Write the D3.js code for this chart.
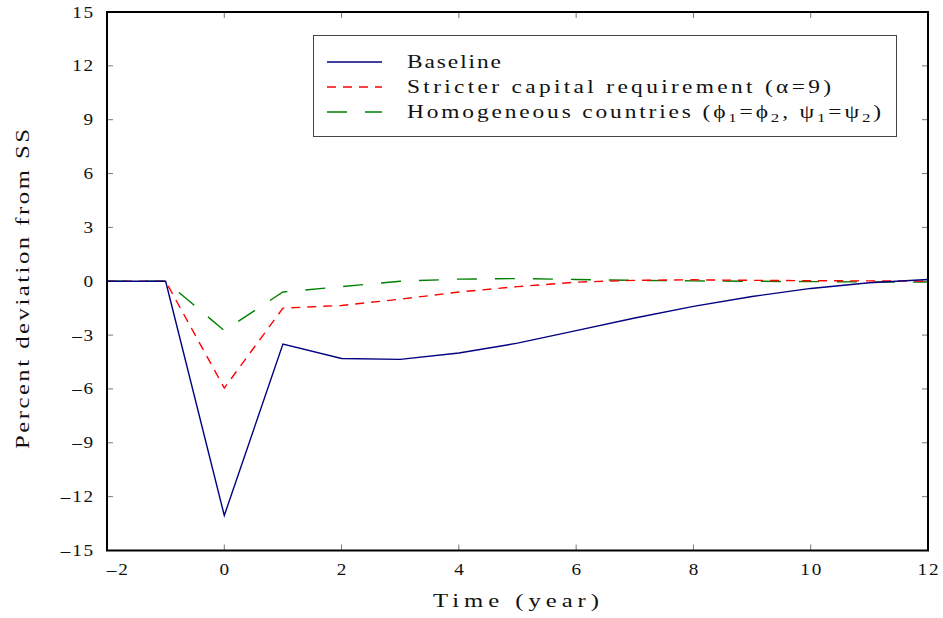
<!DOCTYPE html>
<html><head><meta charset="utf-8">
<script src="https://cdn.jsdelivr.net/npm/d3@7"></script>
<style>body{margin:0;background:#fff;} text{font-family:"Liberation Serif",serif;fill:#111;}</style>
</head><body>
<svg id="c" width="943" height="618"></svg>
<script>
const years = [-2,-1,0,1,2,3,4,5,6,7,8,9,10,11,12];
const baseline = [0,0,-13.05,-3.5,-4.3,-4.35,-4.0,-3.45,-2.75,-2.05,-1.4,-0.85,-0.4,-0.08,0.1];
const stricter = [0,0,-5.95,-1.5,-1.35,-1.0,-0.6,-0.3,-0.05,0.05,0.08,0.05,0.03,0.02,0.0];
const homogeneous = [0,0,-2.75,-0.6,-0.3,0.0,0.12,0.15,0.1,0.05,0.02,0.0,-0.02,-0.04,-0.05];
const xTicks = [-2,0,2,4,6,8,10,12];
const yTicks = [-15,-12,-9,-6,-3,0,3,6,9,12,15];
const legendLabels = ["Baseline","Stricter capital requirement","Homogeneous countries"];

const svg = d3.select("#c");
const L=107,R=928,T=12,B=550.5;
const x = d3.scaleLinear().domain([-2,12]).range([L,R]);
const y = d3.scaleLinear().domain([-15,15]).range([B,T]);
const g = svg.append("g");
const tk = 6;
const fmt = v => v<0 ? "\u2013" + (-v) : String(v);

function stretched(parent, tx, ty, rot, sx, fs, width){
  const gg = parent.append("g").attr("transform",`translate(${tx},${ty}) rotate(${rot}) scale(${sx},1)`);
  return gg.append("text").attr("x",0).attr("y",0).attr("font-size",fs)
    .attr("textLength",width/sx).attr("lengthAdjust","spacing");
}

xTicks.forEach(v=>{
  g.append("line").attr("x1",x(v)).attr("x2",x(v)).attr("y1",B).attr("y2",B-tk).attr("stroke","#777").attr("stroke-width",1);
  g.append("line").attr("x1",x(v)).attr("x2",x(v)).attr("y1",T).attr("y2",T+tk).attr("stroke","#777").attr("stroke-width",1);
  const gg = g.append("g").attr("transform",`translate(${x(v)+1},${B+24}) scale(1.2,1)`);
  const t = gg.append("text").attr("font-size",16).attr("letter-spacing",1.5).text(fmt(v));
  if(v===xTicks[0]) t.attr("text-anchor","start").attr("x",-1);
  else t.attr("text-anchor","middle");
});
yTicks.forEach(v=>{
  g.append("line").attr("x1",L).attr("x2",L+tk).attr("y1",y(v)).attr("y2",y(v)).attr("stroke","#777").attr("stroke-width",1);
  g.append("line").attr("x1",R).attr("x2",R-tk).attr("y1",y(v)).attr("y2",y(v)).attr("stroke","#777").attr("stroke-width",1);
  g.append("g").attr("transform",`translate(${L-12},${y(v)+5.5}) scale(1.2,1)`)
   .append("text").attr("text-anchor","end").attr("font-size",16).attr("letter-spacing",1.5).text(fmt(v));
});
const line = d3.line().x((d,i)=>x(years[i])).y(d=>y(d));
svg.append("clipPath").attr("id","cp").append("rect").attr("x",L).attr("y",T).attr("width",R-L).attr("height",B-T);
const lines = svg.append("g").attr("clip-path","url(#cp)");
lines.append("path").datum(homogeneous).attr("d",line).attr("fill","none").attr("stroke","#008000").attr("stroke-width",1.4).attr("stroke-dasharray","20,18");
lines.append("path").datum(stricter).attr("d",line).attr("fill","none").attr("stroke","#ff0000").attr("stroke-width",1.4).attr("stroke-dasharray","9,7");
lines.append("path").datum(baseline).attr("d",line).attr("fill","none").attr("stroke","#000080").attr("stroke-width",1.4);
svg.append("rect").attr("x",L).attr("y",T).attr("width",R-L).attr("height",B-T).attr("fill","none").attr("stroke","#000").attr("stroke-width",2);
// axis labels
stretched(svg, 433, 607, 0, 1.3, 19, 166).text("Time (year)");
stretched(svg, 29, 449, -90, 1.3, 19, 320).text("Percent deviation from SS");
// legend
const lg = svg.append("g");
lg.append("rect").attr("x",313.5).attr("y",35.5).attr("width",583).attr("height",101).attr("fill","#fff").attr("stroke","#444").attr("stroke-width",1);
const items = [
  {c:"#000080",d:null,w:94,t:[[legendLabels[0]]]},
  {c:"#ff0000",d:"9,7",w:424,t:[[legendLabels[1]+" ("],["\u03b1"],["=9)"]]},
  {c:"#008000",d:"20,18",w:474,t:[[legendLabels[2]+" (\u03d5"],["1","sub"],["=\u03d5"],["2","sub"],[", \u03c8"],["1","sub"],["=\u03c8"],["2","sub"],[")"]]}
];
items.forEach((it,i)=>{
  const yy = 62 + i*25;
  lg.append("line").attr("x1",327).attr("x2",382).attr("y1",yy).attr("y2",yy).attr("stroke",it.c).attr("stroke-width",1.4).attr("stroke-dasharray",it.d);
  const t = stretched(lg, 407, yy+6, 0, 1.3, 18, it.w);
  let prevSub=false;
  it.t.forEach(p=>{
    const s = t.append("tspan").text(p[0]);
    if(p[1]==="sub"){ s.attr("font-size",13).attr("dy",4); prevSub=true; }
    else if(prevSub){ s.attr("dy",-4); prevSub=false; }
  });
});
</script>
</body></html>
